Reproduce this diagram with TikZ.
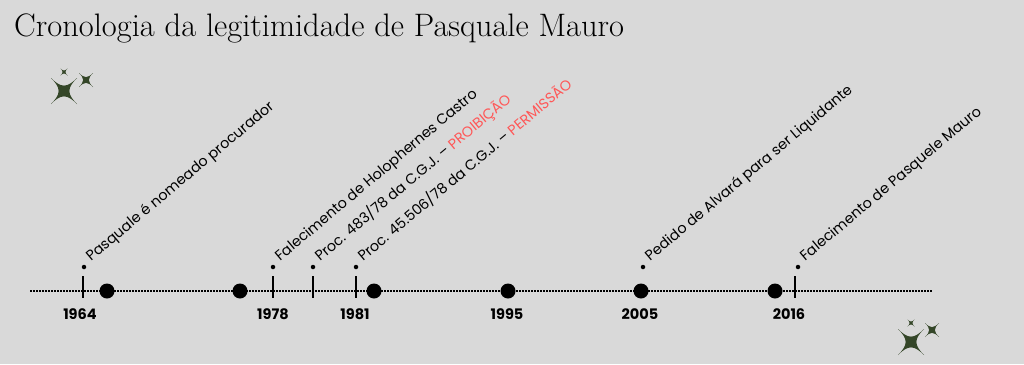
\documentclass[tikz,border=0pt]{standalone}
\usepackage{fontspec}
\newfontfamily\pop{Poppins}
\definecolor{bggray}{HTML}{D9D9D9}
\definecolor{redlabel}{HTML}{FF5757}
\definecolor{stargreen}{HTML}{344628}

% four-pointed sparkle: centre x, centre y, half size
\newcommand{\sparkle}[3]{%
  \fill[stargreen,shift={(#1,#2)},scale=#3]
    (1,1) .. controls (0.22,0.22) and (0.22,-0.22) .. (1,-1)
    .. controls (0.22,-0.22) and (-0.22,-0.22) .. (-1,-1)
    .. controls (-0.22,-0.22) and (-0.22,0.22) .. (-1,1)
    .. controls (-0.22,0.22) and (0.22,0.22) .. (1,1) -- cycle;}

\tikzset{
  bigdot/.style={circle,fill=black,inner sep=0pt,minimum size=15pt},
  smalldot/.style={circle,fill=black,inner sep=0pt,minimum size=4.5pt},
  event/.style={rotate=40,anchor=base west,inner sep=0pt,font=\pop\fontsize{14.4}{16}\selectfont},
  year/.style={anchor=base,inner sep=0pt,font=\pop\bfseries\fontsize{14.5}{16}\selectfont},
  tick/.style={line width=2pt},
}

\begin{document}
\begin{tikzpicture}[x=1pt,y=-1pt]
      \fill[bggray] (0,0) rectangle (1024,364);
      \node[anchor=base west,inner sep=0pt,font=\fontsize{32.5}{36}\selectfont] (title) at (14,36) {Cronologia da legitimidade de Pasquale Mauro};

      % sparkles
      \sparkle{64}{91}{13}
      \sparkle{86}{80}{7}
      \sparkle{64}{72}{3.5}
      \sparkle{911}{342}{13}
      \sparkle{932}{330}{7}
      \sparkle{911}{323}{3.5}

      % timeline
      \coordinate (start) at (30,291);
      \coordinate (end) at (932,291);
      \draw[line width=1.6pt,dash pattern=on 1.6pt off 1.4pt] (start) -- (end);
      \foreach \x in {83,273,313,356,795}
        \draw[tick] (\x,276) -- (\x,298);
      \foreach \x/\n in {107/a,240/b,374/c,508/d,641/e,775/f}
        \node[bigdot] (dot\n) at (\x,291) {};

      % events
      \node[smalldot] (ev1) at (84,267) {};
      \node[smalldot] (ev2) at (273,267) {};
      \node[smalldot] (ev3) at (313,267) {};
      \node[smalldot] (ev4) at (356,267) {};
      \node[smalldot] (ev5) at (643,267) {};
      \node[smalldot] (ev6) at (798,267) {};
      \node[event] (lab1) at ([xshift=7pt,yshift=5pt]ev1.center) {Pasquale é nomeado procurador};
      \node[event] (lab2) at ([xshift=7pt,yshift=5pt]ev2.center) {Falecimento de Holophernes Castro};
      \node[event] (lab3) at ([xshift=7pt,yshift=5pt]ev3.center) {Proc. 483/78 da C.G.J. – \textcolor{redlabel}{PROIBIÇÃO}};
      \node[event] (lab4) at ([xshift=7pt,yshift=5pt]ev4.center) {Proc. 45.506/78 da C.G.J. – \textcolor{redlabel}{PERMISSÃO}};
      \node[event] (lab5) at ([xshift=7pt,yshift=5pt]ev5.center) {Pedido de Alvará para ser Liquidante};
      \node[event] (lab6) at ([xshift=7pt,yshift=5pt]ev6.center) {Falecimento de Pasquele Mauro};

      % years
      \node[year] (y1964) at (80,319) {1964};
      \node[year] (y1978) at (273,319) {1978};
      \node[year] (y1981) at (355,319) {1981};
      \node[year] (y1995) at (507,319) {1995};
      \node[year] (y2005) at (640,319) {2005};
      \node[year] (y2016) at (789,319) {2016};
    \end{tikzpicture}
\end{document}
